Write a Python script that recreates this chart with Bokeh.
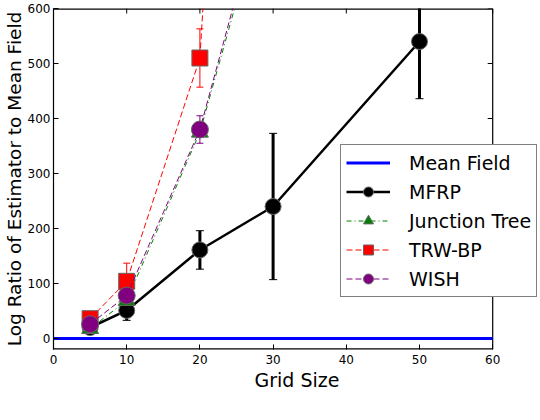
import math
from bokeh.plotting import figure
from bokeh.models import FixedTicker, ColumnDataSource
from bokeh.embed import file_html
from bokeh.resources import INLINE

# ---------------- data ----------------
grid_mfrp = [5, 10, 20, 30, 50]
mfrp = [20, 51, 161, 240, 540]
mfrp_err = [5, 18, 35, 133, 104]

grid_other = [5, 10, 20, 30]
junction = [18, 69, 375, 850]
junction_err = [2, 3, 5, 10]
trwbp = [36, 104, 510, 2700]
trwbp_err = [6, 33, 53, 80]
wish = [26, 78, 380, 870]
wish_err = [4, 6, 25, 40]

mean_field_x = [0, 60]
mean_field_y = [0, 0]

x_ticks = [0, 10, 20, 30, 40, 50, 60]
y_ticks = [0, 100, 200, 300, 400, 500, 600]

X_MIN, X_MAX = 0, 60
Y_MIN, Y_MAX = -20, 600

FONT = "DejaVu Sans"

W, H = 540, 400
LEFT, TOP, BOTTOM_FRAME, RIGHT_FRAME = 51, 8, 349, 492
# the frame runs on to the right edge so that the legend may overlap it;
# the visible box ends at X_MAX
frame_w = W - LEFT
x_end = X_MAX * frame_w / (RIGHT_FRAME - LEFT)

p = figure(width=W, height=H, x_range=(X_MIN, x_end), y_range=(Y_MIN, Y_MAX),
           output_backend="svg", toolbar_location=None,
           min_border_left=LEFT, min_border_right=0, min_border_top=TOP,
           min_border_bottom=H - BOTTOM_FRAME)
p.grid.visible = False
p.outline_line_color = None
p.background_fill_color = "white"

for ax in list(p.xaxis) + list(p.yaxis):
    ax.major_tick_in = 5
    ax.major_tick_out = 0
    ax.minor_tick_line_color = None
    ax.major_tick_line_color = "black"
    ax.major_label_text_font = FONT
    ax.major_label_text_font_size = "12px"
    ax.major_label_text_color = "black"
p.xaxis.ticker = FixedTicker(ticks=x_ticks)
p.yaxis.ticker = FixedTicker(ticks=y_ticks)
p.xaxis.axis_line_color = None
p.xaxis.major_label_standoff = 5
p.yaxis.axis_line_color = "black"
p.yaxis.axis_line_width = 1.2
p.yaxis.major_label_standoff = 3

p.xaxis.axis_label = "Grid Size"
p.yaxis.axis_label = "Log Ratio of Estimator to Mean Field"
for ax in list(p.xaxis) + list(p.yaxis):
    ax.axis_label_text_font = FONT
    ax.axis_label_text_font_style = "normal"
    ax.axis_label_text_color = "black"
p.xaxis.axis_label_text_font_size = "19px"
p.yaxis.axis_label_text_font_size = "18.5px"
p.xaxis.axis_label_standoff = 2
p.yaxis.axis_label_standoff = 0

# box edges (top, bottom, right) and inward ticks on top / right
p.line([X_MIN, X_MAX], [Y_MAX, Y_MAX], line_color="black", line_width=2.4)
p.line([X_MIN, X_MAX], [Y_MIN, Y_MIN], line_color="black", line_width=2.4)
p.line([X_MAX, X_MAX], [Y_MIN, Y_MAX], line_color="black", line_width=1.2)
p.ray(x=x_ticks, y=[Y_MAX] * len(x_ticks), length=5, length_units="screen",
      angle=-math.pi / 2, line_color="black", line_width=1)
p.ray(x=[X_MAX] * len(y_ticks), y=y_ticks, length=5, length_units="screen",
      angle=math.pi, line_color="black", line_width=1)

# ---------------- Mean Field ----------------
p.line(mean_field_x, mean_field_y, line_color="#0000ff", line_width=3,
       legend_label="Mean Field")


def series(xs, ys, errs, color, dash, lw, marker, size, label, elw, cap):
    lo = [y - e for y, e in zip(ys, errs)]
    hi = [y + e for y, e in zip(ys, errs)]
    src = ColumnDataSource(dict(x=xs, y=ys, lo=lo, hi=hi))
    p.segment(x0="x", y0="lo", x1="x", y1="hi", source=src,
              line_color=color, line_width=elw)
    p.scatter(x="x", y="lo", source=src, marker="dash", size=cap,
              line_color=color, line_width=1)
    p.scatter(x="x", y="hi", source=src, marker="dash", size=cap,
              line_color=color, line_width=1)
    p.line(x="x", y="y", source=src, line_color=color, line_width=lw,
           line_dash=dash, legend_label=label)
    p.scatter(x="x", y="y", source=src, marker=marker, size=size,
              fill_color=color, line_color="#666666", line_width=1,
              legend_label=label)


series(grid_mfrp, mfrp, mfrp_err, "black", "solid", 2.5, "circle", 16,
       "MFRP", 3, 8)
series(grid_other, junction, junction_err, "#008000", "5 3 1 3", 1, "triangle",
       17, "Junction Tree", 1, 7)
series(grid_other, trwbp, trwbp_err, "#ff0000", "6 3", 1, "square", 16,
       "TRW-BP", 1, 7)
series(grid_other, wish, wish_err, "#800080", "6 3", 1, "circle", 17,
       "WISH", 1, 7)

lg = p.legend[0]
lg.location = (338 - LEFT, BOTTOM_FRAME - 297)
lg.border_line_color = "black"
lg.border_line_width = 1
lg.background_fill_color = "white"
lg.background_fill_alpha = 1
lg.label_text_font = FONT
lg.label_text_font_size = "19px"
lg.label_text_color = "black"
lg.glyph_width = 44
lg.glyph_height = 25
lg.label_height = 25
lg.spacing = 4
lg.padding = 5
lg.margin = 0
lg.label_standoff = 19

open("out.html", "w").write(file_html(p, INLINE))
